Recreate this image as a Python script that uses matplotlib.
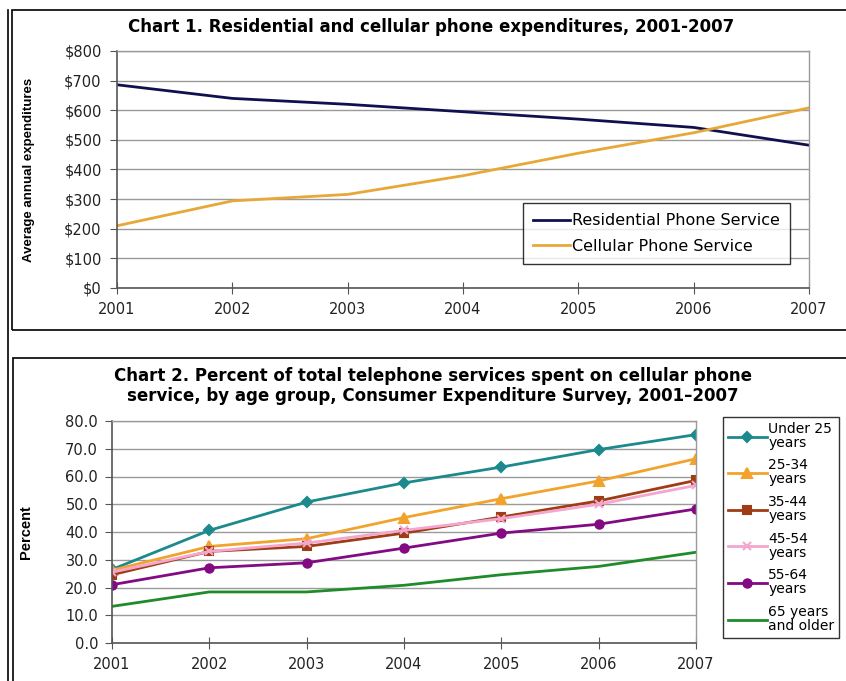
import matplotlib
matplotlib.use("Agg")
import matplotlib.pyplot as plt
from matplotlib.patches import Rectangle
from matplotlib.ticker import FuncFormatter

plt.rcParams['font.family'] = ['DejaVu Sans']

years = [2001, 2002, 2003, 2004, 2005, 2006, 2007]
residential = [686, 640, 620, 595, 570, 542, 482]
cellular = [210, 294, 316, 379, 455, 524, 608]

age_labels = ["Under 25\nyears", "25-34\nyears", "35-44\nyears", "45-54\nyears", "55-64\nyears", "65 years\nand older"]
under25 = [26.5, 40.6, 50.8, 57.7, 63.4, 69.7, 75.1]
age25_34 = [26.2, 34.8, 37.6, 45.2, 52.0, 58.4, 66.4]
age35_44 = [24.6, 33.0, 34.8, 39.6, 45.4, 51.2, 58.6]
age45_54 = [25.5, 33.0, 36.0, 40.6, 44.8, 50.0, 56.8]
age55_64 = [21.0, 27.1, 28.9, 34.2, 39.6, 42.8, 48.3]
age65 = [13.2, 18.4, 18.4, 20.8, 24.6, 27.6, 32.7]

W, H = 846, 681
fig = plt.figure(figsize=(W / 100, H / 100), dpi=100)

def rect(x0, y0, x1, y1):
    return [x0 / W, 1 - y1 / H, (x1 - x0) / W, (y1 - y0) / H]

def fx(x):
    return x / W

def fy(y):
    return 1 - y / H

# outer frames
fig.patches.append(Rectangle((fx(12), fy(330)), fx(846 - 12) + 0.01, (330 - 10) / H,
                             transform=fig.transFigure, fill=False, ec='black', lw=1.2))
fig.patches.append(Rectangle((fx(13), -0.01), fx(846 - 13) + 0.01, 1 - 358 / H + 0.01,
                             transform=fig.transFigure, fill=False, ec='black', lw=1.2))
fig.lines.append(plt.Line2D([fx(8), fx(8)], [0, fy(10)], transform=fig.transFigure, color='black', lw=1.2))

grid_c = '#9a9a9a'
label_font = ['Liberation Sans Narrow', 'Liberation Sans']

def style(ax, ypad):
    for s in ['top', 'right']:
        ax.spines[s].set_color(grid_c)
        ax.spines[s].set_linewidth(1.0)
    for s in ['left', 'bottom']:
        ax.spines[s].set_color('#555555')
        ax.spines[s].set_linewidth(1.2)
    ax.yaxis.grid(True, color=grid_c, lw=1.0)
    ax.set_axisbelow(True)
    ax.tick_params(axis='y', direction='out', length=5, color='#555555', labelsize=10.5,
                   pad=ypad, labelcolor='#222222')
    ax.tick_params(axis='x', direction='inout', length=8, color='#555555', labelsize=10.5,
                   pad=6, labelcolor='#222222')

# Chart 1
ax1 = fig.add_axes(rect(117, 51, 809, 288))
ax1.plot(years, residential, color='#101050', lw=2.0, label='Residential Phone Service')
ax1.plot(years, cellular, color='#E8A838', lw=2.0, label='Cellular Phone Service')
ax1.set_xlim(2001, 2007)
ax1.set_ylim(0, 800)
ax1.set_yticks(range(0, 801, 100))
ax1.yaxis.set_major_formatter(FuncFormatter(lambda v, p: f"${int(v)}"))
ax1.set_xticks(years)
style(ax1, 6)
ax1.set_ylabel('Average annual expenditures', fontweight='bold', fontsize=9.5,
               family=label_font)
ax1.yaxis.set_label_coords((35 - 117) / (809 - 117), 0.5)
leg1 = ax1.legend(loc='upper left', bbox_to_anchor=((523 - 117) / (809 - 117), (288 - 203) / (288 - 51)),
                  frameon=True, fancybox=False, edgecolor='black', fontsize=11.5,
                  handlelength=2.3, handletextpad=0.1, labelspacing=0.65, borderpad=0.65,
                  borderaxespad=0)
leg1.get_frame().set_linewidth(1.0)
fig.text(fx(431), fy(27), 'Chart 1. Residential and cellular phone expenditures, 2001-2007',
         ha='center', va='center', fontsize=12, fontweight='bold')

# Chart 2
ax2 = fig.add_axes(rect(112, 421, 696, 643))
series = [under25, age25_34, age35_44, age45_54, age55_64, age65]
colors = ['#1C8A8C', '#F2A32C', '#A03C14', '#F4A6CE', '#820A82', '#1E8C28']
markers = ['D', '^', 's', 'x', 'o', None]
msizes = [5, 7, 6, 6, 6, 0]
for vals, c, m, ms, lab in zip(series, colors, markers, msizes, age_labels):
    ax2.plot(years, vals, color=c, lw=2.0, marker=m, markersize=ms, mew=1.5, label=lab)
ax2.set_xlim(2001, 2007)
ax2.set_ylim(0, 80)
ax2.set_yticks(range(0, 81, 10))
ax2.yaxis.set_major_formatter(FuncFormatter(lambda v, p: f"{v:.1f}"))
ax2.set_xticks(years)
style(ax2, 5)
ax2.set_ylabel('Percent', fontweight='bold', fontsize=10.5, family=label_font)
ax2.yaxis.set_label_coords((33 - 112) / (696 - 112), 0.5)
leg2 = ax2.legend(loc='upper left', bbox_to_anchor=((723 - 112) / (696 - 112), (643 - 417) / (643 - 421)),
                  frameon=True, fancybox=False, edgecolor='black', fontsize=10,
                  handlelength=2.8, handletextpad=0.1, labelspacing=0.62, borderpad=0.35,
                  borderaxespad=0)
for t in leg2.get_texts():
    t.set_linespacing(1.0)
leg2.get_frame().set_linewidth(1.0)
fig.text(fx(433), fy(386),
         'Chart 2. Percent of total telephone services spent on cellular phone\nservice, by age group, Consumer Expenditure Survey, 2001\u20132007',
         ha='center', va='center', fontsize=12, fontweight='bold', linespacing=1.2)

fig.savefig('out.png', dpi=100)
